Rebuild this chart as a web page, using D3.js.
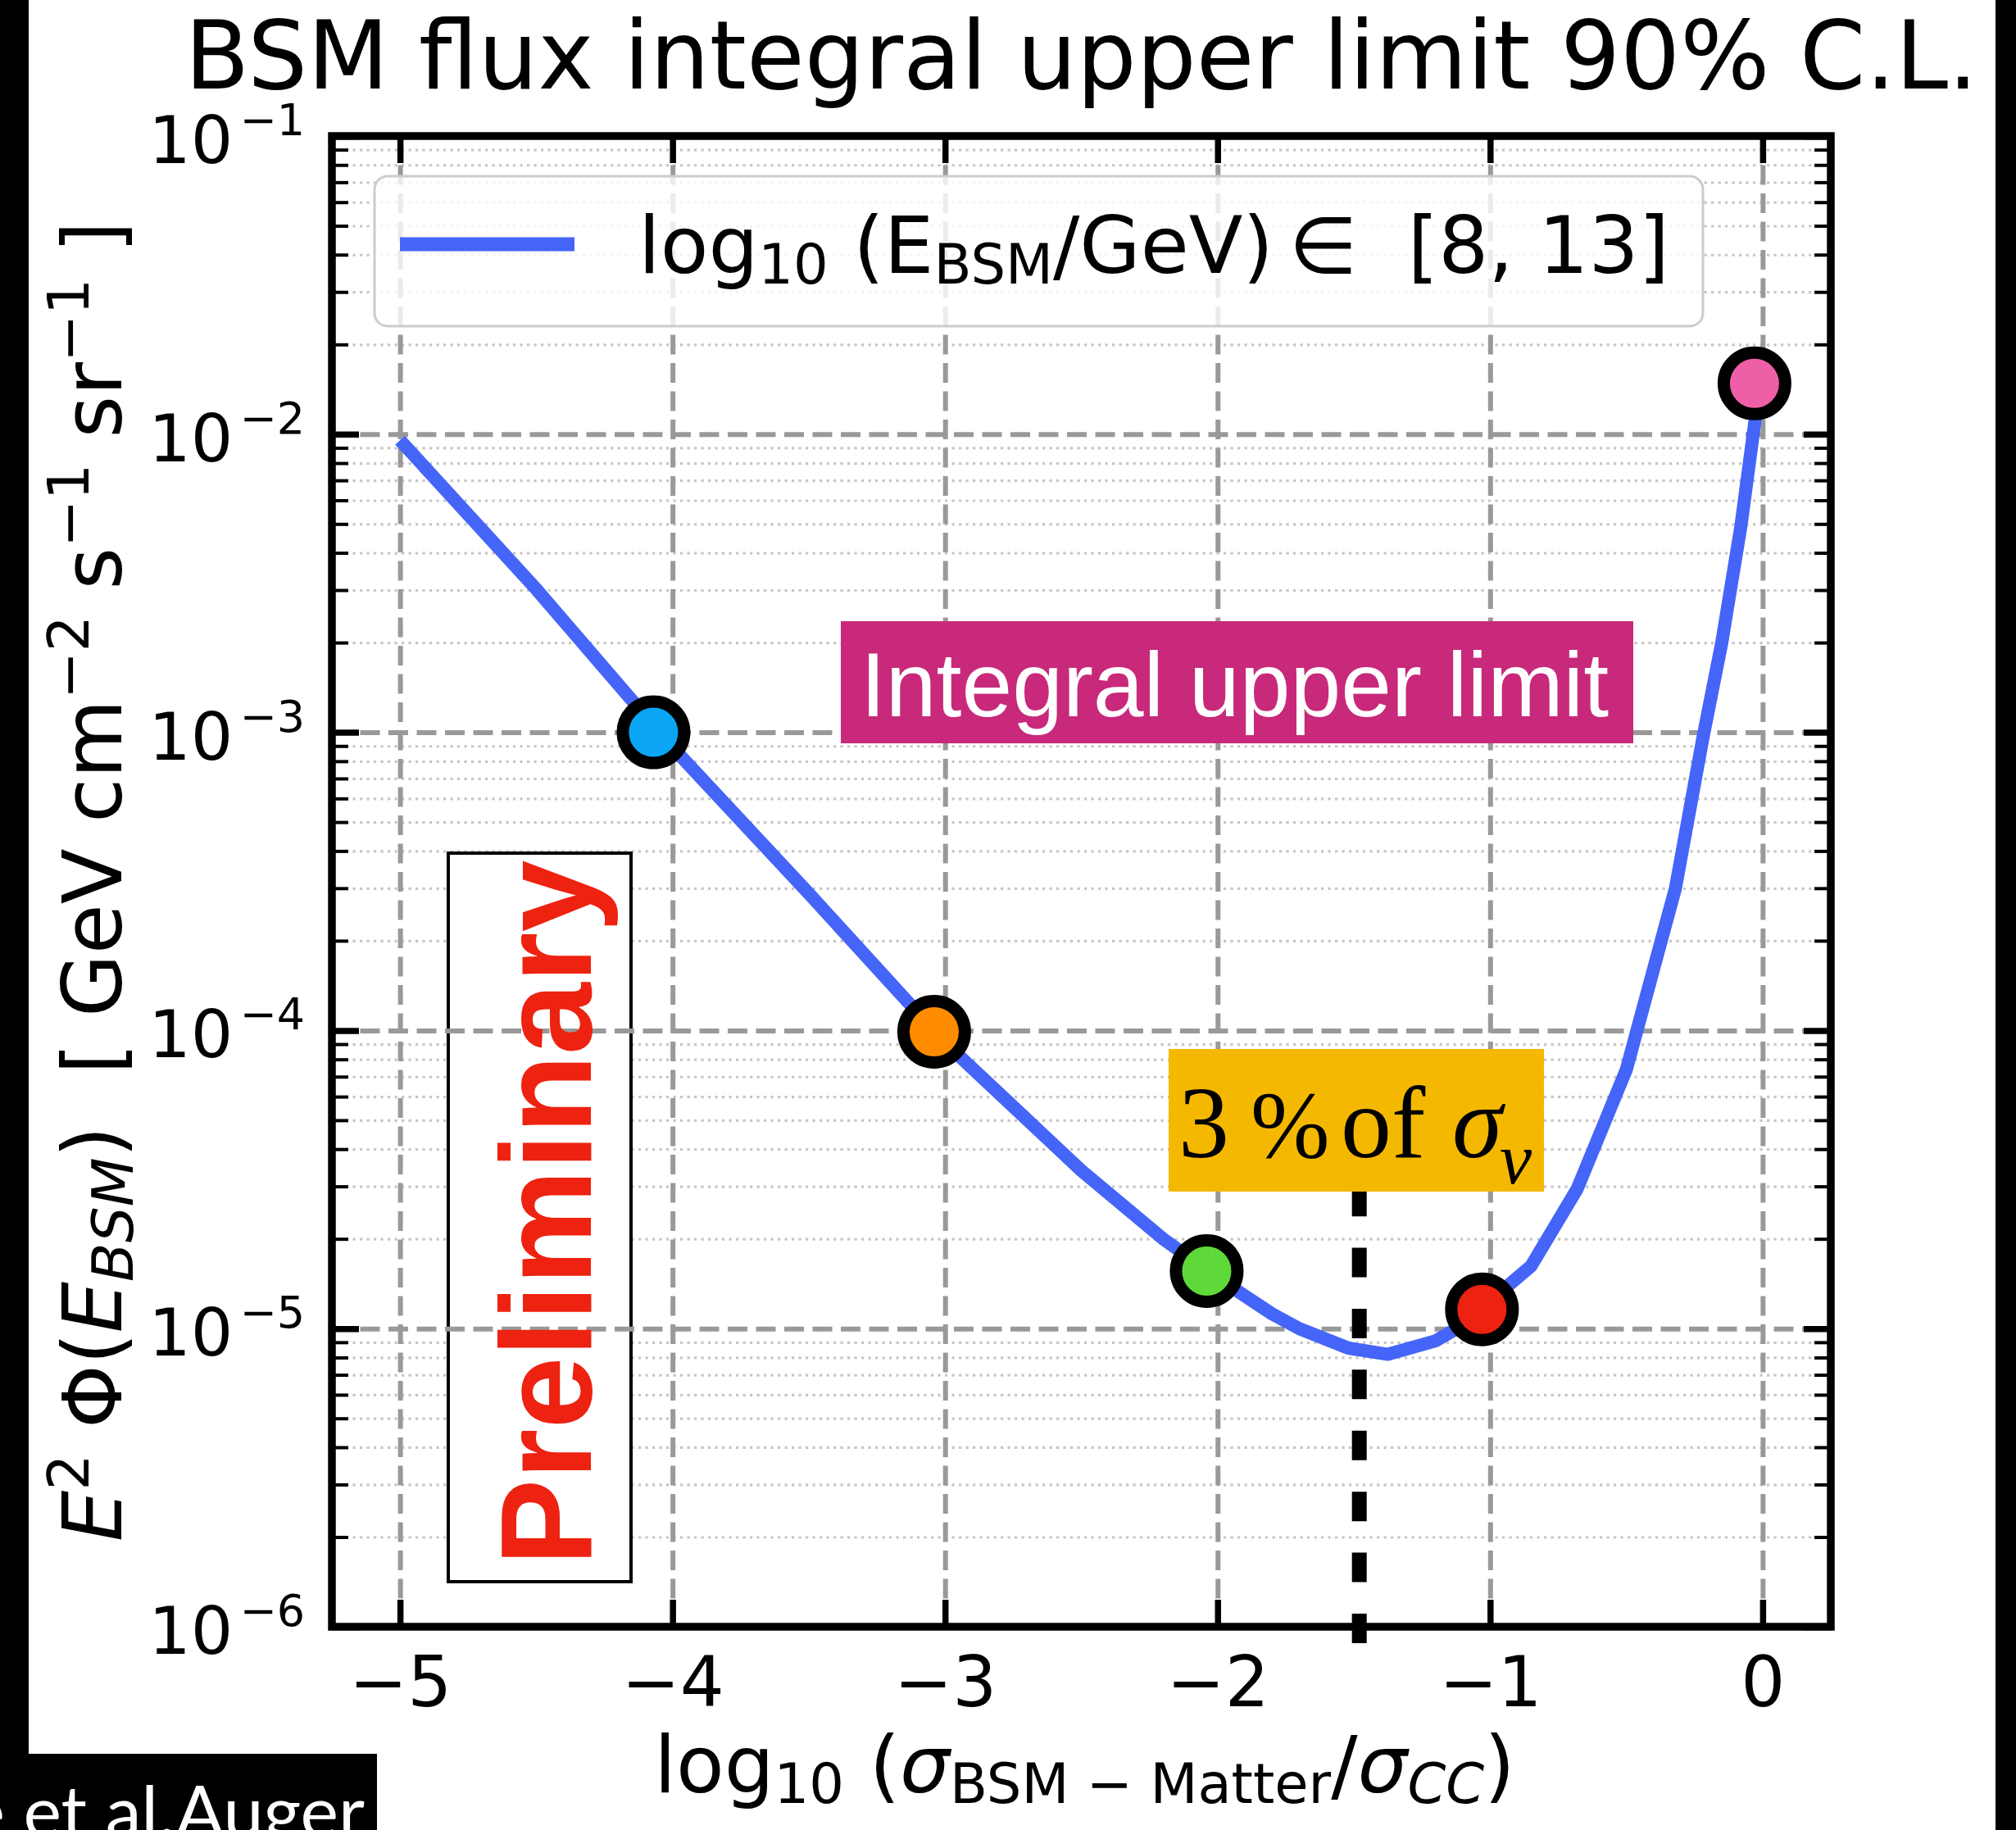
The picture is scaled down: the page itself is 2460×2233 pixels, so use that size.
<!DOCTYPE html>
<html>
<head>
<meta charset="utf-8">
<script src="https://cdn.jsdelivr.net/npm/d3@7"></script>
<style>
  body { margin: 0; background: #fff; }
  svg text { white-space: pre; }
</style>
</head>
<body>
<script>
// ---- data ----
var xTicks = [-5, -4, -3, -2, -1, 0];
var yDecades = [1e-6, 1e-5, 1e-4, 1e-3, 1e-2, 1e-1];

// upper limit curve
var curveX = [-5.0, -4.5, -4.0, -3.5, -3.0, -2.5, -2.2, -2.0, -1.8, -1.7, -1.52, -1.375, -1.2, -1.03, -0.94, -0.85, -0.68, -0.5, -0.32, -0.22, -0.15, -0.08, -0.02];
var curveY = [9.55e-3, 3.02e-3, 8.9e-4, 2.88e-4, 9.1e-5, 3.39e-5, 2.0e-5, 1.48e-5, 1.12e-5, 1.0e-5, 8.6e-6, 8.2e-6, 9.1e-6, 1.12e-5, 1.38e-5, 1.62e-5, 2.95e-5, 7.4e-5, 3.0e-4, 9.5e-4, 2.0e-3, 4.9e-3, 1.26e-2];

// coloured points
var pointX = [-4.07, -3.04, -2.04, -1.03, -0.03];
var pointY = [1.0e-3, 9.9e-5, 1.56e-5, 1.16e-5, 1.48e-2];
var pointColors = ["#0aa5f5", "#ff8c00", "#5fd93a", "#ee2211", "#ee5fa7"];

// 3% of sigma_nu marker line
var cutX = -1.48;
var cutY = [2.99e-5, 8.75e-7];

var width = 2460;
var height = 2233;
var plot = { left: 405, right: 2234, top: 166, bottom: 1985 };
var plotW = plot.right - plot.left;
var plotH = plot.bottom - plot.top;

var dejavu = "'DejaVu Sans', sans-serif";
var blue = "#4565f8";

var svg = d3.select("body").append("svg")
    .attr("width", width)
    .attr("height", height);

svg.append("rect").attr("width", width).attr("height", height).attr("fill", "#fff");

var x = d3.scaleLinear().domain([-5.25, 0.25]).range([plot.left, plot.right]);
var y = d3.scaleLog().domain([1e-6, 1e-1]).range([plot.bottom, plot.top]);

// minor decade values
var yMinor = [];
for (var k = -6; k <= -2; k++) {
  for (var m = 2; m <= 9; m++) yMinor.push(m * Math.pow(10, k));
}

// rich text helper (sub / superscripts)
function rich(sel, parts, size) {
  var shift = 0;
  parts.forEach(function(p) {
    var target = p.sup ? -0.4 * size : (p.sub ? 0.14 * size : 0);
    sel.append("tspan")
      .attr("dy", target - shift)
      .attr("font-size", (p.sup || p.sub) ? 0.7 * size : size)
      .attr("font-style", p.it ? "italic" : null)
      .text(p.t);
    shift = target;
  });
}

// ---- grids ----
var gMinor = svg.append("g").attr("transform", "translate(" + plot.left + ",0)")
  .call(d3.axisLeft(y).tickValues(yMinor).tickSize(-plotW).tickFormat(""));
gMinor.select(".domain").remove();
gMinor.selectAll("line").attr("stroke", "#c6c6c6").attr("stroke-width", 3.2).attr("stroke-dasharray", "3.2,5.3");

// preliminary box sits between the minor and major grid
svg.append("rect")
  .attr("x", 547).attr("y", 1041).attr("width", 223).attr("height", 889)
  .attr("fill", "#fff").attr("stroke", "#000").attr("stroke-width", 4);

var gMajY = svg.append("g").attr("transform", "translate(" + plot.left + ",0)")
  .call(d3.axisLeft(y).tickValues(yDecades).tickSize(-plotW).tickFormat(""));
gMajY.select(".domain").remove();
gMajY.selectAll("line").attr("stroke", "#999").attr("stroke-width", 6).attr("stroke-dasharray", "24,10.5");

var gMajX = svg.append("g").attr("transform", "translate(0," + plot.bottom + ")")
  .call(d3.axisBottom(x).tickValues(xTicks).tickSize(-plotH).tickFormat(""));
gMajX.select(".domain").remove();
gMajX.selectAll("line").attr("stroke", "#999").attr("stroke-width", 6).attr("stroke-dasharray", "24,10.5");

// ---- legend ----
svg.append("rect")
  .attr("x", 457).attr("y", 215).attr("width", 1621).attr("height", 183).attr("rx", 16)
  .attr("fill", "#fff").attr("fill-opacity", 0.8)
  .attr("stroke", "#cccccc").attr("stroke-width", 3);
svg.append("line")
  .attr("x1", 488).attr("x2", 701).attr("y1", 298).attr("y2", 298)
  .attr("stroke", blue).attr("stroke-width", 17);
var legText = svg.append("text")
  .attr("x", 779).attr("y", 333)
  .attr("font-family", dejavu).attr("font-size", 96).attr("fill", "#000");
rich(legText, [
  { t: "log" }, { t: "10", sub: true }, { t: " (E" }, { t: "BSM", sub: true },
  { t: "/GeV)\u2009\u2208  [8, 13]" }
], 96);

// ---- annotation: Integral upper limit ----
svg.append("rect")
  .attr("x", 1026).attr("y", 758).attr("width", 967).attr("height", 149)
  .attr("fill", "#c8297a");
svg.append("text")
  .attr("x", 1050).attr("y", 874)
  .attr("font-family", "'Liberation Sans', Arial, sans-serif").attr("font-size", 111)
  .attr("fill", "#fff")
  .text("Integral upper limit");

// ---- 3% line and box ----
svg.append("line")
  .attr("x1", x(cutX)).attr("x2", x(cutX))
  .attr("y1", y(cutY[0])).attr("y2", y(cutY[1]))
  .attr("stroke", "#000").attr("stroke-width", 18).attr("stroke-dasharray", "36,38.4");

svg.append("rect")
  .attr("x", 1426).attr("y", 1280).attr("width", 458).attr("height", 174)
  .attr("fill", "#f5b800");
var serif = "'Liberation Serif', 'Times New Roman', serif";
var yb = svg.append("g").attr("font-family", serif).attr("font-size", 124).attr("fill", "#000");
yb.append("text").attr("x", 1438).attr("y", 1412).text("3");
yb.append("text").attr("x", 1526).attr("y", 1412).attr("font-size", 116).text("%");
yb.append("text").attr("x", 1636).attr("y", 1412).text("of");
yb.append("text").attr("x", 1772).attr("y", 1412).attr("font-style", "italic").text("\u03c3");
yb.append("text").attr("x", 1830).attr("y", 1444).attr("font-style", "italic").attr("font-size", 88).text("\u03bd");

// ---- curve ----
var line = d3.line()
  .x(function(d, i) { return x(curveX[i]); })
  .y(function(d, i) { return y(curveY[i]); });
svg.append("path")
  .attr("d", line(curveX))
  .attr("fill", "none").attr("stroke", blue).attr("stroke-width", 16)
  .attr("stroke-linejoin", "round");

// ---- points ----
svg.selectAll("circle.pt")
  .data(pointX)
  .enter()
  .append("circle")
  .attr("class", "pt")
  .attr("cx", function(d) { return x(d); })
  .attr("cy", function(d, i) { return y(pointY[i]); })
  .attr("r", 37.5)
  .attr("fill", function(d, i) { return pointColors[i]; })
  .attr("stroke", "#000").attr("stroke-width", 15);

// ---- Preliminary ----
svg.append("text")
  .attr("transform", "translate(721,1480) rotate(-90)")
  .attr("text-anchor", "middle")
  .attr("font-family", "'Liberation Sans', Arial, sans-serif")
  .attr("font-weight", "bold").attr("font-size", 158)
  .attr("fill", "#ee2211")
  .text("Preliminary");

// ---- axes frame and ticks ----
function tickAxis(gen, tr, vals, len, sw) {
  var g = svg.append("g").attr("transform", tr)
    .call(gen.tickValues(vals).tickSize(-len).tickFormat(""));
  g.select(".domain").remove();
  g.selectAll("line").attr("stroke", "#000").attr("stroke-width", sw);
  g.selectAll("text").remove();
  return g;
}
tickAxis(d3.axisTop(x), "translate(0," + plot.top + ")", xTicks, 33, 7.5);
tickAxis(d3.axisRight(y), "translate(" + plot.right + ",0)", yDecades, 33, 7.5);
tickAxis(d3.axisRight(y), "translate(" + plot.right + ",0)", yMinor, 20, 4);
tickAxis(d3.axisLeft(y), "translate(" + plot.left + ",0)", yMinor, 20, 4);

// bottom axis with labels
var gx = svg.append("g").attr("transform", "translate(0," + plot.bottom + ")")
  .call(d3.axisBottom(x).tickValues(xTicks).tickSize(-33).tickPadding(37).tickFormat(d3.format("d")));
gx.attr("font-family", dejavu).attr("font-size", 85);
gx.select(".domain").remove();
gx.selectAll("line").attr("stroke", "#000").attr("stroke-width", 7.5);
gx.selectAll("text").attr("fill", "#000");

// left axis with 10^k labels
var gy = svg.append("g").attr("transform", "translate(" + plot.left + ",0)")
  .call(d3.axisLeft(y).tickValues(yDecades).tickSize(-33).tickPadding(33).tickFormat(function() { return ""; }));
gy.attr("font-family", dejavu).attr("font-size", 81);
gy.select(".domain").remove();
gy.selectAll("line").attr("stroke", "#000").attr("stroke-width", 7.5);
gy.selectAll("text").attr("fill", "#000").attr("dy", "0.4em").each(function(d) {
  var e = Math.round(Math.log10(d));
  var t = d3.select(this);
  t.append("tspan").text("10");
  t.append("tspan").attr("dy", -34).attr("dx", 8).attr("font-size", 54).text("\u2212" + Math.abs(e));
});

svg.append("rect")
  .attr("x", plot.left).attr("y", plot.top).attr("width", plotW).attr("height", plotH)
  .attr("fill", "none").attr("stroke", "#000").attr("stroke-width", 9.5);

// ---- titles ----
svg.append("text")
  .attr("x", (plot.left + plot.right) / 2).attr("y", 108)
  .attr("text-anchor", "middle")
  .attr("font-family", dejavu).attr("font-size", 115).attr("fill", "#000")
  .text("BSM flux integral upper limit 90% C.L.");

var xl = svg.append("text")
  .attr("x", (plot.left + plot.right) / 2 + 4).attr("y", 2187)
  .attr("text-anchor", "middle")
  .attr("font-family", dejavu).attr("font-size", 96).attr("fill", "#000");
rich(xl, [
  { t: "log" }, { t: "10", sub: true }, { t: " (" }, { t: "\u03c3", it: true },
  { t: "BSM \u2212 Matter", sub: true }, { t: "/" }, { t: "\u03c3", it: true },
  { t: "CC", sub: true, it: true }, { t: ")" }
], 96);

var yl = svg.append("text")
  .attr("transform", "translate(148," + (plot.top + plot.bottom) / 2 + ") rotate(-90)")
  .attr("text-anchor", "middle")
  .attr("font-family", dejavu).attr("font-size", 99).attr("fill", "#000");
rich(yl, [
  { t: "E", it: true }, { t: "2", sup: true }, { t: " \u03a6(" }, { t: "E", it: true },
  { t: "BSM", sub: true, it: true }, { t: ")  [ GeV cm" }, { t: "\u22122", sup: true },
  { t: " s" }, { t: "\u22121", sup: true }, { t: " sr" }, { t: "\u22121", sup: true }, { t: " ]" }
], 99);

// ---- slide borders ----
svg.append("rect").attr("x", 0).attr("y", 0).attr("width", 35).attr("height", 2140).attr("fill", "#000");
svg.append("rect").attr("x", 2435).attr("y", 0).attr("width", 25).attr("height", height).attr("fill", "#000");
svg.append("rect").attr("x", 0).attr("y", 2140).attr("width", 460).attr("height", 93).attr("fill", "#000");
svg.append("text")
  .attr("x", 445).attr("y", 2242)
  .attr("text-anchor", "end")
  .attr("font-family", "Lato, 'Open Sans', sans-serif").attr("font-size", 88)
  .attr("fill", "#fff")
  .text("e et al.Auger");
</script>
</body>
</html>
